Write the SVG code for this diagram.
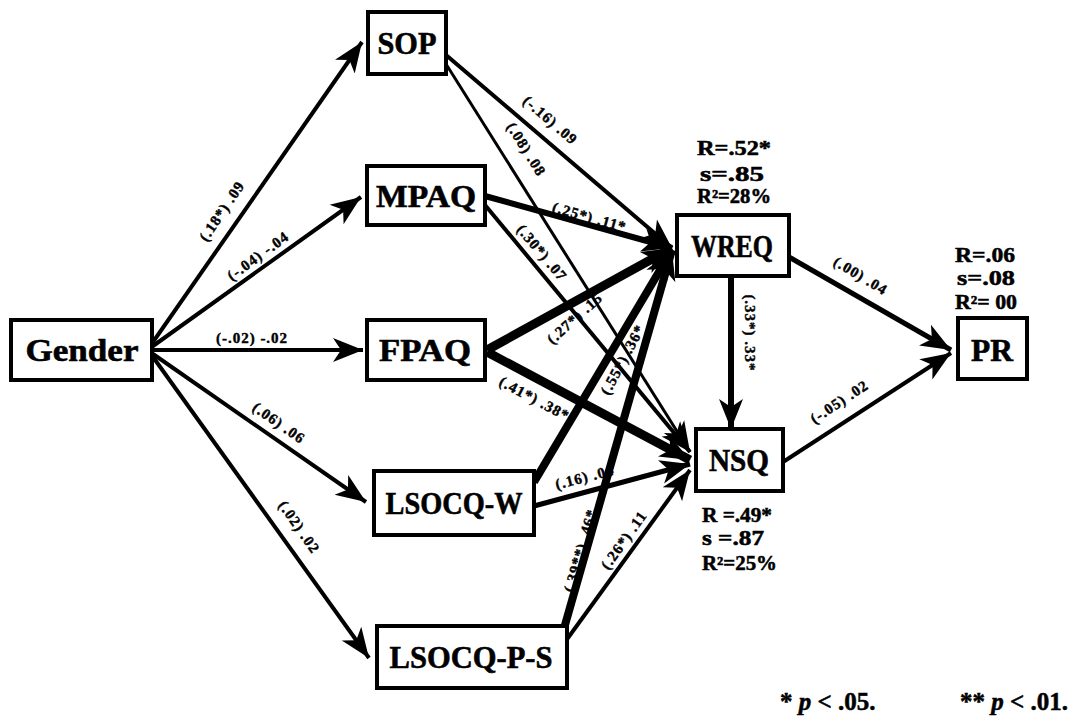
<svg xmlns="http://www.w3.org/2000/svg" width="1085" height="721" viewBox="0 0 1085 721">
<style>
.box{fill:#fff;stroke:#000;stroke-width:4}
.nl{font-family:"Liberation Serif",serif;font-weight:bold;font-size:32px;text-anchor:middle;fill:#000;stroke:#000;stroke-width:0.6}
.el{font-family:"Liberation Serif",serif;font-weight:bold;font-size:15px;letter-spacing:1px;text-anchor:middle;fill:#000;stroke:#000;stroke-width:0.4}
.st{font-family:"Liberation Serif",serif;font-weight:bold;font-size:20px;fill:#000;stroke:#000;stroke-width:0.5}
.fn{font-family:"Liberation Serif",serif;font-weight:bold;font-size:25px;fill:#000;stroke:#000;stroke-width:0.5}
.e{stroke:#000;fill:none;marker-end:url(#ah)}
</style>
<defs>
<marker id="ah" markerUnits="userSpaceOnUse" markerWidth="32" markerHeight="26" refX="30" refY="12" orient="auto" viewBox="0 0 32 24">
<path d="M0,0 L30,12 L0,24 L8,12 z" fill="#000"/>
</marker>
</defs>
<rect width="1085" height="721" fill="#fff"/>
<g id="connectors">
<line class="e" x1="153" y1="342" x2="362" y2="42" stroke-width="4"/>
<line class="e" x1="153" y1="346" x2="361" y2="197" stroke-width="4"/>
<line class="e" x1="153" y1="350" x2="363" y2="350" stroke-width="4"/>
<line class="e" x1="153" y1="354" x2="366" y2="502" stroke-width="4"/>
<line class="e" x1="153" y1="357" x2="369" y2="658" stroke-width="4"/>
<line class="e" x1="446" y1="55" x2="672" y2="248" stroke-width="4"/>
<line class="e" x1="446" y1="64" x2="690" y2="452" stroke-width="3"/>
<line class="e" x1="485" y1="196" x2="672" y2="248" stroke-width="6"/>
<line class="e" x1="485" y1="205" x2="690" y2="452" stroke-width="4"/>
<line class="e" x1="487" y1="350" x2="672" y2="248" stroke-width="9"/>
<line class="e" x1="487" y1="352" x2="690" y2="460" stroke-width="9"/>
<line class="e" x1="534" y1="482" x2="672" y2="250" stroke-width="8"/>
<line class="e" x1="534" y1="506" x2="690" y2="464" stroke-width="5"/>
<line class="e" x1="563" y1="632" x2="672" y2="250" stroke-width="8"/>
<line class="e" x1="565" y1="642" x2="690" y2="470" stroke-width="4"/>
<line class="e" x1="731" y1="276" x2="731" y2="429" stroke-width="6"/>
<line class="e" x1="789" y1="257" x2="951" y2="350" stroke-width="5"/>
<line class="e" x1="783" y1="462" x2="951" y2="353" stroke-width="4"/>
</g>
<g id="edge-labels">
<text class="el" transform="translate(226,214) rotate(-56)">(.18*) .09</text>
<text class="el" transform="translate(261,260) rotate(-36)">(-.04) -.04</text>
<text class="el" transform="translate(252,343)">(-.02) -.02</text>
<text class="el" transform="translate(276,427) rotate(35)">(.06) .06</text>
<text class="el" transform="translate(295,530) rotate(55)">(.02) .02</text>
<text class="el" transform="translate(547,124) rotate(40.6)">(-.16) .09</text>
<text class="el" transform="translate(522,152) rotate(58)">(.08) .08</text>
<text class="el" transform="translate(588,222) rotate(15.7)">(.25*) .11*</text>
<text class="el" transform="translate(538,256) rotate(50)">(.30*) .07</text>
<text class="el" transform="translate(578,322) rotate(-42)">(.27*) .15</text>
<text class="el" transform="translate(532,403) rotate(28)">(.41*) .38*</text>
<text class="el" transform="translate(627,362) rotate(-62)">(.55*) .36*</text>
<text class="el" transform="translate(586,482) rotate(-14.5)">(.16) .04</text>
<text class="el" transform="translate(585,552) rotate(-74)">(.39**) .46*</text>
<text class="el" transform="translate(628,543) rotate(-54.5)">(.26*) .11</text>
<text class="el" transform="translate(745,333) rotate(90)">(.33*) .33*</text>
<text class="el" transform="translate(858,280) rotate(31)">(.00) .04</text>
<text class="el" transform="translate(842,406) rotate(-33.5)">(-.05) .02</text>
</g>
<g id="node-gender"><rect class="box" x="11" y="320" width="141" height="60"/><text class="nl" x="82" y="361" textLength="113" lengthAdjust="spacingAndGlyphs">Gender</text></g>
<g id="node-sop"><rect class="box" x="368" y="12" width="78" height="62"/><text class="nl" x="407" y="54" textLength="59" lengthAdjust="spacingAndGlyphs">SOP</text></g>
<g id="node-mpaq"><rect class="box" x="367" y="166" width="118" height="59"/><text class="nl" x="426" y="207" textLength="100" lengthAdjust="spacingAndGlyphs">MPAQ</text></g>
<g id="node-fpaq"><rect class="box" x="367" y="320" width="118" height="60"/><text class="nl" x="425" y="361" textLength="92" lengthAdjust="spacingAndGlyphs">FPAQ</text></g>
<g id="node-lsocqw"><rect class="box" x="374" y="471" width="160" height="64"/><text class="nl" x="454" y="514" textLength="137" lengthAdjust="spacingAndGlyphs">LSOCQ-W</text></g>
<g id="node-lsocqps"><rect class="box" x="377" y="626" width="190" height="62"/><text class="nl" x="471" y="668" textLength="163" lengthAdjust="spacingAndGlyphs">LSOCQ-P-S</text></g>
<g id="node-wreq"><rect class="box" x="677" y="215" width="112" height="61"/><text class="nl" x="732" y="257" textLength="82" lengthAdjust="spacingAndGlyphs">WREQ</text>
<text class="st" x="697" y="155" textLength="74" lengthAdjust="spacingAndGlyphs">R=.52*</text>
<text class="st" x="700" y="181" textLength="64" lengthAdjust="spacingAndGlyphs">s=.85</text>
<text class="st" x="697" y="203" textLength="74" lengthAdjust="spacingAndGlyphs">R²=28%</text></g>
<g id="node-nsq"><rect class="box" x="696" y="429" width="87" height="62"/><text class="nl" x="739" y="471" textLength="60" lengthAdjust="spacingAndGlyphs">NSQ</text>
<text class="st" x="702" y="522" textLength="70" lengthAdjust="spacingAndGlyphs">R =.49*</text>
<text class="st" x="702" y="545" textLength="62" lengthAdjust="spacingAndGlyphs">s =.87</text>
<text class="st" x="702" y="570" textLength="75" lengthAdjust="spacingAndGlyphs">R²=25%</text></g>
<g id="node-pr"><rect class="box" x="958" y="318" width="69" height="61"/><text class="nl" x="992" y="361" textLength="42" lengthAdjust="spacingAndGlyphs">PR</text>
<text class="st" x="955" y="262" textLength="60" lengthAdjust="spacingAndGlyphs">R=.06</text>
<text class="st" x="957" y="285" textLength="58" lengthAdjust="spacingAndGlyphs">s=.08</text>
<text class="st" x="955" y="309" textLength="62" lengthAdjust="spacingAndGlyphs">R²= 00</text></g>
<g id="footnote">
<text class="fn" x="780" y="710">* <tspan font-style="italic">p</tspan> &lt; .05.</text>
<text class="fn" x="960" y="710">** <tspan font-style="italic">p</tspan> &lt; .01.</text>
</g>
</svg>
